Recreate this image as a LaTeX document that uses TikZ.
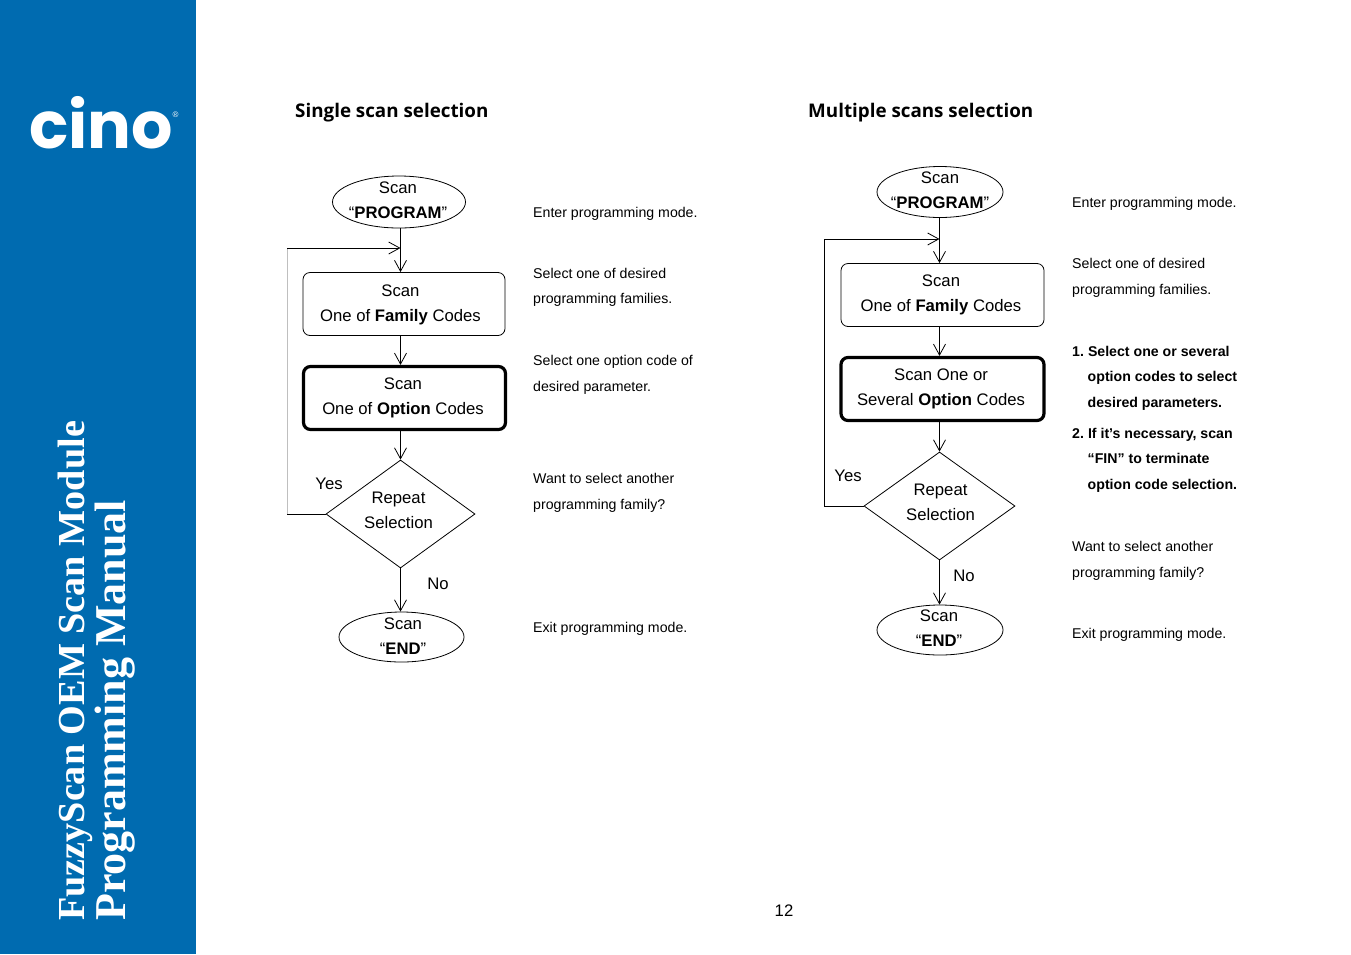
\documentclass[tikz,border=0pt]{standalone}
\usepackage{fontspec}
\setmainfont{Liberation Sans}
\newfontfamily\serifbold{Liberation Serif}
\newfontfamily\logofont{Poppins}
\newfontfamily\headfont{Open Sans}
\usetikzlibrary{arrows.meta,positioning,shapes.geometric}
\definecolor{cinoblue}{RGB}{0,107,176}
\begin{document}
\begin{tikzpicture}[x=1pt,y=-1pt,
  flowtext/.style={font=\fontsize{16.7}{25}\selectfont, align=center, inner sep=0pt},
  term/.style={draw, ellipse, line width=0.8pt, inner sep=0pt},
  codebox/.style={draw, rounded corners=7pt, line width=0.8pt, inner sep=0pt},
  optbox/.style={codebox, line width=3.2pt},
  choice/.style={draw, diamond, line width=0.8pt, inner sep=0pt},
  note/.style={anchor=west, font=\fontsize{14.15}{25.6}\selectfont, align=left, inner sep=0pt},
  noteb/.style={note, font=\fontsize{14.15}{25.6}\selectfont\bfseries},
  title/.style={anchor=west, font=\headfont\fontsize{18.8}{18.8}\selectfont\bfseries, inner sep=0pt},
  spine/.style={rotate=90, anchor=base west, text=white, inner sep=0pt},
  arr/.style={-{Straight Barb[length=11pt,width=12pt]}, line width=0.8pt},
  flowline/.style={line width=0.8pt}]
\useasboundingbox (0,0) rectangle (1351,954);
% side band
\fill[cinoblue] (0,0) rectangle (196,954);
\node[text=white, font=\logofont\fontsize{65}{65}\selectfont\bfseries, inner sep=0pt] (logo) at (101,123) {cino};
\node[text=white, font=\fontsize{8}{8}\selectfont, inner sep=0pt] (reg) at (175.5,115) {®};
\node[spine, font=\serifbold\fontsize{38.2}{38}\selectfont\bfseries] (sideA) at (84,921) {FuzzyScan OEM Scan Module};
\node[spine, font=\serifbold\fontsize{44}{44}\selectfont\bfseries] (sideB) at (125,921) {Programming Manual};
\node[title] (titleA) at (295,113) {Single scan selection};
\node[title] (titleB) at (808,113) {Multiple scans selection};
% single scan
\node[term, minimum width=133pt, minimum height=52pt] (progA) at (399,202) {};
\node[flowtext] (progAt) at (398,200) {Scan\\``\textbf{PROGRAM}''};
\node[codebox, minimum width=202pt, minimum height=63pt] (famA) at (404,304) {};
\node[flowtext] (famAt) at (400.5,305) {Scan\\One of \textbf{Family} Codes};
\node[optbox, minimum width=202pt, minimum height=63pt] (optA) at (404.5,398) {};
\node[flowtext] (optAt) at (403,398) {Scan\\One of \textbf{Option} Codes};
\node[choice, minimum width=149pt, minimum height=108pt] (repA) at (400.5,514) {};
\node[flowtext] (repAt) at (398.5,510) {Repeat\\Selection};
\node[term, minimum width=125pt, minimum height=50pt] (endA) at (401.5,637) {};
\node[flowtext] (endAt) at (403,636) {Scan\\``\textbf{END}''};
\coordinate (joinA) at (400.5,248);
\coordinate (cornerAa) at (287,514);
\coordinate (cornerAb) at (287,248);
\draw[flowline] (progA.south -| joinA) -- (joinA);
\draw[arr] (joinA) -- (joinA |- famA.north);
\draw[arr] (joinA |- famA.south) -- (joinA |- optA.north);
\draw[arr] (joinA |- optA.south) -- (repA.north);
\draw[arr] (repA.south) -- (repA.south |- endA.north);
\draw[flowline] (repA.west) -- (cornerAa);
\draw[line width=0.5pt, black!25] (cornerAa) -- (cornerAb);
\draw[arr] (cornerAb) -- (joinA);
\node[flowtext] (yesA) at (329,484) {Yes};
\node[flowtext] (noA) at (438,584) {No};
\node[note] (n1) at (533,214) {Enter programming mode.};
\node[note] (n2) at (533,287.5) {Select one of desired\\programming families.};
\node[note] (n3) at (533,375) {Select one option code of\\desired parameter.};
\node[note] (n4) at (533,493) {Want to select another\\programming family?};
\node[note] (n5) at (533,629) {Exit programming mode.};
% multiple scans
\node[term, minimum width=126pt, minimum height=51pt] (progB) at (940,192) {};
\node[flowtext] (progBt) at (940,190) {Scan\\``\textbf{PROGRAM}''};
\node[codebox, minimum width=203pt, minimum height=63pt] (famB) at (942.5,295) {};
\node[flowtext] (famBt) at (941,294.5) {Scan\\One of \textbf{Family} Codes};
\node[optbox, minimum width=203pt, minimum height=63pt] (optB) at (942.5,389) {};
\node[flowtext] (optBt) at (941,388.5) {Scan One or\\Several \textbf{Option} Codes};
\node[choice, minimum width=151pt, minimum height=108pt] (repB) at (939.5,506) {};
\node[flowtext] (repBt) at (940.5,502.5) {Repeat\\Selection};
\node[term, minimum width=126pt, minimum height=50pt] (endB) at (940,630) {};
\node[flowtext] (endBt) at (939,628) {Scan\\``\textbf{END}''};
\coordinate (joinB) at (939.5,239);
\coordinate (cornerBa) at (824.5,506);
\coordinate (cornerBb) at (824.5,239);
\draw[flowline] (progB.south -| joinB) -- (joinB);
\draw[arr] (joinB) -- (joinB |- famB.north);
\draw[arr] (joinB |- famB.south) -- (joinB |- optB.north);
\draw[arr] (joinB |- optB.south) -- (joinB |- repB.north);
\draw[arr] (joinB |- repB.south) -- (joinB |- endB.north);
\draw[flowline] (repB.west) -- (cornerBa) -- (cornerBb);
\draw[arr] (cornerBb) -- (joinB);
\node[flowtext] (yesB) at (848,476) {Yes};
\node[flowtext] (noB) at (964,576) {No};
\node[note] (m1) at (1072,204) {Enter programming mode.};
\node[note] (m2) at (1072,278) {Select one of desired\\programming families.};
\node[noteb] (m3) at (1072,378) {1.\hspace{4pt}Select one or several\\\hspace*{15.5pt}option codes to select\\\hspace*{15.5pt}desired parameters.};
\node[noteb] (m4) at (1072,460) {2.\hspace{4pt}If it’s necessary, scan\\\hspace*{15.5pt}``FIN'' to terminate\\\hspace*{15.5pt}option code selection.};
\node[note] (m5) at (1072,561) {Want to select another\\programming family?};
\node[note] (m6) at (1072,635) {Exit programming mode.};
\node[flowtext] (page) at (784,911) {12};
\end{tikzpicture}
\end{document}
